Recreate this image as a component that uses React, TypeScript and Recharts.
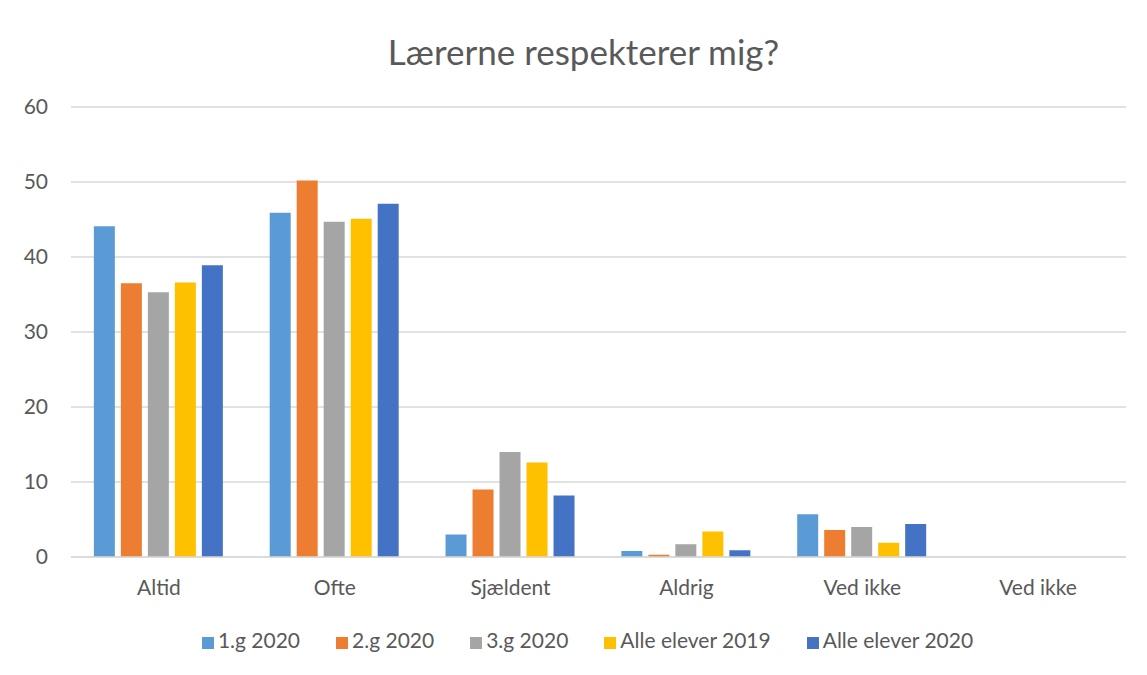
import { BarChart, Bar, CartesianGrid, XAxis, YAxis, Legend } from 'recharts';

const categories = ['Altid', 'Ofte', 'Sjældent', 'Aldrig', 'Ved ikke', 'Ved ikke'];
const g1 = [44.1, 45.9, 3.0, 0.8, 5.7, null];
const g2 = [36.5, 50.2, 9.0, 0.3, 3.6, null];
const g3 = [35.3, 44.7, 14.0, 1.7, 4.0, null];
const all2019 = [36.6, 45.1, 12.6, 3.4, 1.9, null];
const all2020 = [38.9, 47.1, 8.2, 0.9, 4.4, null];
const yTicks = [0, 10, 20, 30, 40, 50, 60];

const data = categories.map((c, i) => ({
  category: c,
  '1.g 2020': g1[i],
  '2.g 2020': g2[i],
  '3.g 2020': g3[i],
  'Alle elever 2019': all2019[i],
  'Alle elever 2020': all2020[i],
}));

const series = [
  { key: '1.g 2020', color: '#5B9BD5' },
  { key: '2.g 2020', color: '#ED7D31' },
  { key: '3.g 2020', color: '#A5A5A5' },
  { key: 'Alle elever 2019', color: '#FFC000' },
  { key: 'Alle elever 2020', color: '#4472C4' },
];

const font = 'Lato, "Open Sans", sans-serif';

export default function App() {
  return (
    <div
      style={{
        position: 'relative',
        margin: -8,
        width: 1147,
        height: 675,
        background: '#fff',
        fontFamily: font,
        overflow: 'hidden',
      }}
    >
      <div
        style={{
          position: 'absolute',
          left: 7,
          top: -2,
          width: 1160,
          height: 673,
          border: '1px solid #d9d9d9',
          boxSizing: 'border-box',
        }}
      />
      <div
        style={{
          position: 'absolute',
          top: 29,
          left: 20,
          width: 1127,
          textAlign: 'center',
          fontSize: 35,
          lineHeight: '44px',
          color: '#595959',
        }}
      >
        Lærerne respekterer mig?
      </div>
      <div style={{ position: 'absolute', left: 0, top: 0 }}>
        <BarChart
          width={1147}
          height={675}
          data={data}
          margin={{ top: 107, right: 21, left: 11, bottom: 62 }}
          barCategoryGap="13%"
          barGap={6}
        >
          <CartesianGrid vertical={false} stroke="#d9d9d9" strokeWidth={1.5} />
          <XAxis
            dataKey="category"
            height={30}
            tickLine={false}
            axisLine={{ stroke: '#d9d9d9', strokeWidth: 1.5 }}
            tick={{ fill: '#595959', fontSize: 21, fontFamily: font }}
            tickMargin={17}
            interval={0}
          />
          <YAxis
            width={60}
            domain={[0, 60]}
            ticks={yTicks}
            tickLine={false}
            axisLine={false}
            tick={{ fill: '#595959', fontSize: 21, fontFamily: font }}
            tickMargin={17}
          />
          <Legend
            verticalAlign="bottom"
            iconType="square"
            iconSize={12}
            wrapperStyle={{
              top: 627,
              left: 32,
              width: 1147,
              height: 26,
              lineHeight: '26px',
              fontSize: 21,
              fontFamily: font,
            }}
            formatter={(v) => <span style={{ color: '#595959', marginRight: 26 }}>{v}</span>}
          />
          {series.map((s) => (
            <Bar key={s.key} dataKey={s.key} fill={s.color} isAnimationActive={false} />
          ))}
        </BarChart>
      </div>
    </div>
  );
}
